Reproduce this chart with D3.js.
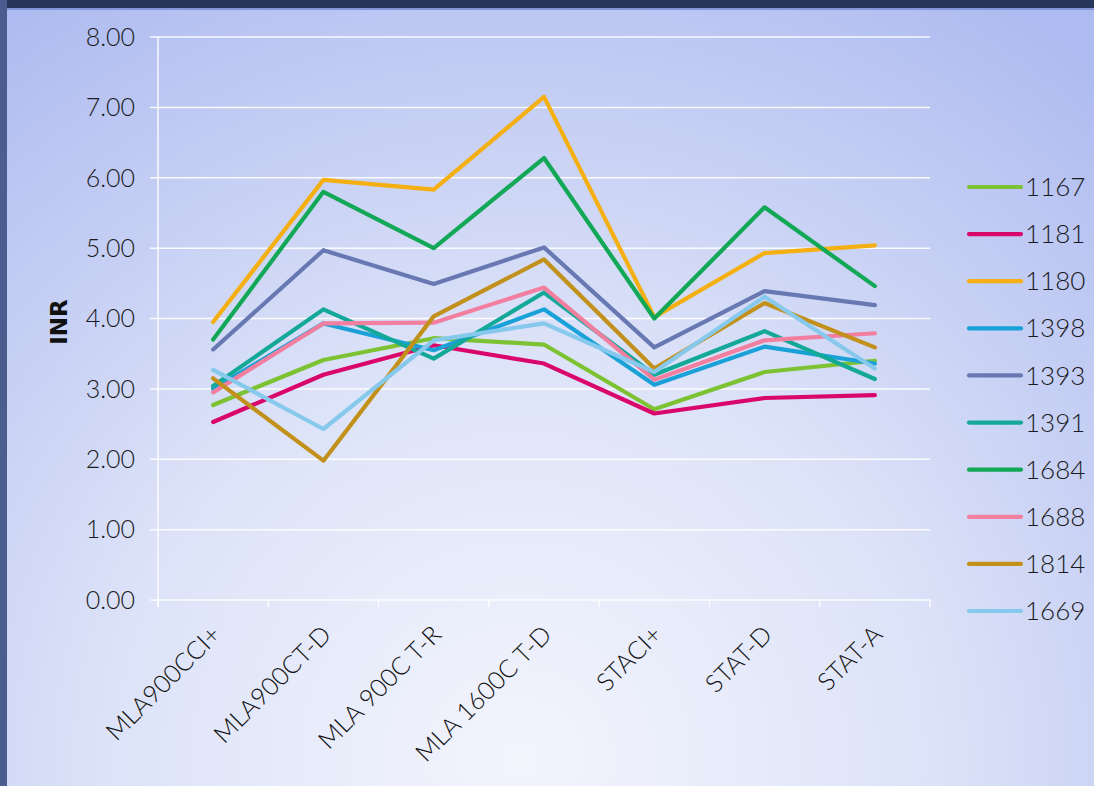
<!DOCTYPE html>
<html><head><meta charset="utf-8">
<script src="https://cdn.jsdelivr.net/npm/d3@7"></script>
<style>html,body{margin:0;padding:0;overflow:hidden;}svg{display:block;}</style>
</head><body>
<script>
const categories = ["MLA900CCI+","MLA900CT-D","MLA 900C T-R","MLA 1600C T-D","STACI+","STAT-D","STAT-A"];
const seriesNames = ["1167","1181","1180","1398","1393","1391","1684","1688","1814","1669"];
const s1167 = [2.77,3.41,3.72,3.63,2.71,3.24,3.40];
const s1181 = [2.53,3.20,3.62,3.36,2.65,2.87,2.91];
const s1180 = [3.95,5.97,5.83,7.15,4.02,4.93,5.04];
const s1398 = [3.00,3.93,3.55,4.13,3.06,3.60,3.36];
const s1393 = [3.56,4.97,4.49,5.01,3.59,4.39,4.19];
const s1391 = [3.04,4.13,3.43,4.37,3.20,3.82,3.14];
const s1684 = [3.70,5.80,5.00,6.28,4.00,5.58,4.46];
const s1688 = [2.95,3.93,3.94,4.44,3.13,3.69,3.79];
const s1814 = [3.15,1.98,4.03,4.84,3.29,4.22,3.59];
const s1669 = [3.27,2.43,3.69,3.93,3.24,4.31,3.29];
const yTicks = [0,1,2,3,4,5,6,7,8];
const colors = ["#7cc232","#d9076c","#f4b012","#1aa1d8","#6878b3","#14a898","#12a857","#f27f9f","#c2911c","#86c9ec"];
const allSeries = [s1167,s1181,s1180,s1398,s1393,s1391,s1684,s1688,s1814,s1669];

const W = 1094, H = 786;
const svg = d3.select("body").append("svg").attr("width", W).attr("height", H);
const defs = svg.append("defs");
const rg = defs.append("radialGradient").attr("id","bg").attr("gradientUnits","userSpaceOnUse")
  .attr("cx", 520).attr("cy", 760).attr("r", 900);
rg.append("stop").attr("offset","0%").attr("stop-color","#f3f5fd");
rg.append("stop").attr("offset","45%").attr("stop-color","#dde3f8");
rg.append("stop").attr("offset","100%").attr("stop-color","#aebbf0");
svg.append("rect").attr("width",W).attr("height",H).attr("fill","url(#bg)");
svg.append("rect").attr("x",0).attr("y",0).attr("width",W).attr("height",8).attr("fill","#27375c");
svg.append("rect").attr("x",0).attr("y",8).attr("width",W).attr("height",2).attr("fill","#8494d8");
svg.append("rect").attr("x",0).attr("y",0).attr("width",7).attr("height",H).attr("fill","#4a5d8e");

const mLeft = 158, mRight = 930, mTop = 37, mBottom = 600;
const x = d3.scaleBand().domain(categories).range([mLeft, mRight]);
const y = d3.scaleLinear().domain([0, 8]).range([mBottom, mTop]);

const font = "Lato, 'Open Sans', sans-serif";
const g = svg.append("g");
g.selectAll("line.grid").data(yTicks).enter().append("line")
  .attr("x1", mLeft - 8).attr("x2", mRight).attr("y1", d => y(d)).attr("y2", d => y(d))
  .attr("stroke", "#ffffff").attr("stroke-width", 1.5).attr("opacity", 0.9);
g.append("line").attr("x1", mLeft).attr("x2", mLeft).attr("y1", mTop).attr("y2", mBottom + 7)
  .attr("stroke", "#ffffff").attr("stroke-width", 1.5).attr("opacity", 0.9);
const bounds = categories.map(c => x(c)).concat([mRight]);
g.selectAll("line.xt").data(bounds).enter().append("line")
  .attr("x1", d => d).attr("x2", d => d).attr("y1", mBottom).attr("y2", mBottom + 7)
  .attr("stroke", "#ffffff").attr("stroke-width", 1.5).attr("opacity", 0.9);

g.selectAll("text.yl").data(yTicks).enter().append("text")
  .attr("x", 135).attr("y", d => y(d)).attr("dy", "0.35em").attr("text-anchor", "end")
  .attr("font-family", font).attr("font-weight", 300).attr("font-size", 25).attr("fill", "#1a1a22").text(d => d.toFixed(2));

g.selectAll("text.xl").data(categories).enter().append("text")
  .attr("transform", d => `translate(${x(d) + x.bandwidth()/2 + 3},${mBottom + 30}) rotate(-45)`)
  .attr("text-anchor", "end").attr("dy", "0.35em")
  .attr("font-family", font).attr("font-weight", 300).attr("font-size", 25).attr("fill", "#111").text(d => d);

svg.append("text").attr("transform", `translate(59,322) rotate(-90)`).attr("text-anchor","middle")
  .attr("dy","0.35em").attr("font-family","'DejaVu Sans', Verdana, sans-serif").attr("font-weight","bold")
  .attr("font-size", 23).attr("fill","#111").text("INR");

const line = d3.line().x((d, i) => x(categories[i]) + x.bandwidth()/2).y(d => y(d));
svg.append("g").selectAll("path").data(allSeries).enter().append("path")
  .attr("d", d => line(d)).attr("fill","none").attr("stroke", (d,i) => colors[i])
  .attr("stroke-width", 4.2).attr("stroke-linejoin","round").attr("stroke-linecap","round");

const lg = svg.append("g");
const ly = d3.scalePoint().domain(seriesNames).range([187, 611]);
seriesNames.forEach((n, i) => {
  lg.append("line").attr("x1", 969).attr("x2", 1021).attr("y1", ly(n)).attr("y2", ly(n))
    .attr("stroke", colors[i]).attr("stroke-width", 4.2).attr("stroke-linecap","round");
  lg.append("text").attr("x", 1025).attr("y", ly(n)).attr("dy","0.35em")
    .attr("font-family", font).attr("font-weight", 300).attr("font-size", 26).attr("fill","#1a1a22").text(n);
});
</script>
</body></html>
